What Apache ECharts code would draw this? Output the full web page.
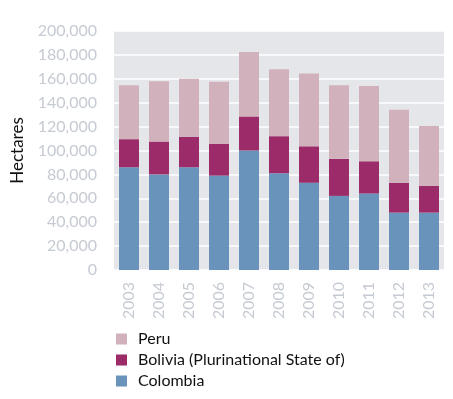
<!DOCTYPE html>
<html>
<head>
<meta charset="utf-8">
<script src="https://cdn.jsdelivr.net/npm/echarts@6/dist/echarts.min.js"></script>
<style>
  html, body { margin: 0; padding: 0; background: #fff; }
  #chart { width: 453px; height: 399px; }
</style>
</head>
<body>
<div id="chart"></div>
<script>
var years = ['2003', '2004', '2005', '2006', '2007', '2008', '2009', '2010', '2011', '2012', '2013'];
var colombia = [86000, 80000, 86000, 79000, 100000, 81000, 73000, 62000, 64000, 48000, 48000];
var bolivia = [23500, 27500, 25500, 26500, 28500, 31000, 30500, 31000, 27000, 25000, 22500];
var peru = [45000, 50500, 48500, 52000, 54000, 56000, 61000, 61500, 63000, 61000, 50000];

var myChart = echarts.init(document.getElementById('chart'));

var labelFont = 'Lato, "Noto Sans", sans-serif';

option = {
    backgroundColor: '#fff',
    animation: false,
    textStyle: { fontFamily: labelFont },
    legend: {
        orient: 'vertical',
        left: 116,
        top: 330,
        padding: 0,
        itemWidth: 11,
        itemHeight: 11,
        itemGap: 3,
        icon: 'rect',
        data: ['Peru', 'Bolivia (Plurinational State of)', 'Colombia'],
        textStyle: { fontSize: 16, lineHeight: 18, color: '#111', fontFamily: labelFont, padding: [0, 0, 0, 6] }
    },
    grid: {
        left: 114,
        top: 31,
        width: 330,
        height: 239,
        show: true,
        backgroundColor: '#e4e6ea',
        borderWidth: 0
    },
    xAxis: {
        type: 'category',
        data: years,
        axisLine: { show: false },
        axisTick: { show: false },
        axisLabel: {
            rotate: 90,
            margin: 12,
            fontSize: 16,
            color: '#c6cbd3',
            fontFamily: labelFont
        }
    },
    yAxis: {
        type: 'value',
        min: 0,
        max: 200000,
        interval: 20000,
        name: 'Hectares',
        nameLocation: 'middle',
        nameGap: 88,
        nameTextStyle: { fontSize: 17, color: '#111', fontFamily: labelFont },
        axisLine: { show: false },
        axisTick: { show: false },
        axisLabel: {
            margin: 17,
            fontSize: 16,
            color: '#c6cbd3',
            fontFamily: labelFont,
            formatter: function (v) { return v.toLocaleString('en-US'); }
        },
        splitLine: { lineStyle: { color: '#ffffff', width: 1.5 } }
    },
    series: [{
        name: 'Colombia',
        type: 'bar',
        stack: 'total',
        barWidth: 20,
        itemStyle: { color: '#6993ba' },
        data: colombia
    }, {
        name: 'Bolivia (Plurinational State of)',
        type: 'bar',
        stack: 'total',
        barWidth: 20,
        itemStyle: { color: '#9b2b69' },
        data: bolivia
    }, {
        name: 'Peru',
        type: 'bar',
        stack: 'total',
        barWidth: 20,
        itemStyle: { color: '#d1b1bc' },
        data: peru
    }]
};

myChart.setOption(option);
</script>
</body>
</html>
